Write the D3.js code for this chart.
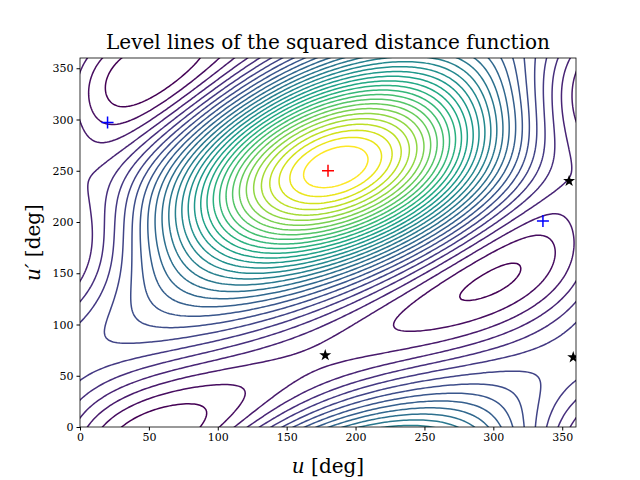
<!DOCTYPE html><html><head><script src="https://d3js.org/d3.v7.min.js"></script>
<style>body{margin:0;background:#fff}text{font-family:"DejaVu Serif","Liberation Serif",serif}</style></head><body>
<svg id="c" width="640" height="480"></svg>
<script>
const xTicks=[0,50,100,150,200,250,300,350];
const yTicks=[0,50,100,150,200,250,300,350];
const orbit1=[1.0,0.05];             // a, e
const orbit2=[1.0,0.7,70,30,60];     // a, e, anomaly offset, inclination, node
const levelCount=32;
const minima=[[20,297],[336,201]];
const maxima=[[180,250]];
const saddles=[[178,70],[355,240],[358,68]];

const L=80,R=576,T=58,B=427;
const svg=d3.select("#c");
const x=d3.scaleLinear().domain([0,360]).range([L,R]);
const y=d3.scaleLinear().domain([0,360]).range([B,T]);
const rad=Math.PI/180;
function d2(u,v){
  const [a1,e1]=orbit1,[a2,e2,off,inc,nd]=orbit2;
  const p=[a1*(Math.cos(u*rad)-e1),a1*Math.sqrt(1-e1*e1)*Math.sin(u*rad),0];
  const E=(v-off)*rad;
  let qx=a2*(Math.cos(E)-e2),qy=a2*Math.sqrt(1-e2*e2)*Math.sin(E);
  let c=Math.cos((180-nd)*rad),s=Math.sin((180-nd)*rad);
  let rx=c*qx-s*qy,ry=s*qx+c*qy;
  const z=ry*Math.sin(inc*rad);ry=ry*Math.cos(inc*rad);
  c=Math.cos(nd*rad);s=Math.sin(nd*rad);
  const q=[c*rx-s*ry,s*rx+c*ry,z];
  return (p[0]-q[0])**2+(p[1]-q[1])**2+(p[2]-q[2])**2;
}
const step=2,lo=-20,n=Math.round(400/step)+1;
const vals=new Array(n*n);
for(let j=0;j<n;j++)for(let i=0;i<n;i++)vals[j*n+i]=d2(lo+i*step,lo+j*step);
const ext=d3.extent(vals);
const thr=d3.range(1,levelCount).map(k=>ext[0]+(ext[1]-ext[0])*k/levelCount);
const color=d3.scaleSequential(d3.interpolateViridis).domain([thr[0],thr[thr.length-1]]);
const cont=d3.contours().size([n,n]).thresholds(thr)(vals);
const path=d3.geoPath(d3.geoTransform({point(px,py){this.stream.point(x(lo+px*step),y(lo+py*step));}}));
svg.append("clipPath").attr("id","clip").append("rect").attr("x",L).attr("y",T).attr("width",R-L).attr("height",B-T);
const g=svg.append("g").attr("clip-path","url(#clip)");
g.selectAll("path").data(cont).join("path").attr("d",path).attr("fill","none").attr("stroke",d=>color(d.value)).attr("stroke-width",1.5);
const plus=(p,col)=>g.append("path").attr("d",`M${x(p[0])-6},${y(p[1])}h12M${x(p[0])},${y(p[1])-6}v12`).attr("stroke",col).attr("stroke-width",1.5);
minima.forEach(p=>plus(p,"blue"));maxima.forEach(p=>plus(p,"red"));
const star=d3.symbol().type(d3.symbolStar).size(45);
saddles.forEach(p=>g.append("path").attr("d",star()).attr("transform",`translate(${x(p[0])},${y(p[1])})`).attr("fill","black"));
svg.append("rect").attr("x",L).attr("y",T).attr("width",R-L).attr("height",B-T).attr("fill","none").attr("stroke","black").attr("stroke-width",0.8);
const xa=svg.append("g").attr("transform",`translate(0,${B})`).call(d3.axisBottom(x).tickValues(xTicks).tickSize(3.5).tickSizeOuter(0));
const ya=svg.append("g").attr("transform",`translate(${L},0)`).call(d3.axisLeft(y).tickValues(yTicks).tickSize(3.5).tickSizeOuter(0));
[xa,ya].forEach(a=>{a.select(".domain").remove();a.selectAll("text").attr("font-family","DejaVu Serif").attr("font-size",11).attr("fill","#000");});
svg.append("text").attr("x",(L+R)/2).attr("y",49).attr("text-anchor","middle").attr("font-size",20).text("Level lines of the squared distance function");
svg.append("text").attr("x",(L+R)/2).attr("y",473).attr("text-anchor","middle").attr("font-size",20).html('<tspan font-style="italic">u</tspan> [deg]');
svg.append("text").attr("transform",`translate(40,${(T+B)/2}) rotate(-90)`).attr("text-anchor","middle").attr("font-size",20).html('<tspan font-style="italic">u′</tspan> [deg]');
</script></body></html>
